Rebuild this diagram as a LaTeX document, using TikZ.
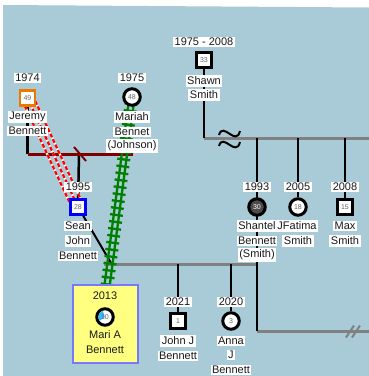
\documentclass[tikz,border=0pt]{standalone}
\usepackage{fontspec}
\setmainfont{Liberation Sans}
\usetikzlibrary{decorations.markings,calc}
\pgfdeclarelayer{back}
\pgfdeclarelayer{lines}
\pgfsetlayers{back,lines,main}
\definecolor{bgblue}{HTML}{A9CBD7}
\definecolor{dred}{HTML}{800000}
\definecolor{rgreen}{HTML}{008000}
\definecolor{lgray}{HTML}{808080}
\definecolor{orng}{HTML}{F07800}
\definecolor{bblue}{HTML}{0000FF}
\definecolor{mblue}{HTML}{7878FF}
\definecolor{myell}{HTML}{FFFF80}
\begin{document}
\begin{tikzpicture}[x=1pt,y=-1pt,
 lbl/.style={fill=white,inner sep=1.5pt,font=\fontsize{11}{12}\selectfont,text=black!90},
 ilbl/.style={inner sep=1.5pt,font=\fontsize{11}{12}\selectfont,text=black!90},
 sq/.style={draw=black,line width=2.5pt,fill=white,minimum size=15pt,inner sep=0pt,font=\fontsize{7}{8}\selectfont,text=black!60},
 ci/.style={circle,draw=black,line width=3pt,fill=white,minimum size=16.5pt,inner sep=0pt,font=\fontsize{7}{8}\selectfont,text=black!60},
 numtxt/.style={inner sep=0pt,font=\fontsize{7}{8}\selectfont,text=black!60},
 grayln/.style={lgray,line width=3pt},
 blkln/.style={black,line width=2.5pt},
 tildeln/.style={black,line width=2pt},
 greenln/.style={rgreen,line width=2.3pt},
]
\useasboundingbox (0,0) rectangle (369,376);

% Jeremy
\node[sq,draw=orng] (jer) at (27.5,98) {49};
\node[lbl] (jery) at (27.5,78) {1974};
\node[lbl] (jern1) at (27.5,117) {Jeremy};
\node[lbl] (jern2) at (27.5,131) {Bennett};
% Mariah
\node[ci] (mar) at (132,97) {48};
\node[lbl] (mary) at (132,78) {1975};
\node[lbl] (marn1) at (132,117) {Mariah};
\node[lbl] (marn2) at (132,132) {Bennet};
\node[lbl] (marn3) at (132,146) {(Johnson)};
% Shawn
\node[sq] (sha) at (204,60) {33};
\node[lbl] (shay) at (204,42) {1975 - 2008};
\node[lbl] (shan1) at (204,81) {Shawn};
\node[lbl] (shan2) at (204,95) {Smith};
% Shantel
\node[ci,fill=black!70,text=white!75] (shn) at (257,207) {30};
\node[lbl] (shny) at (257,187) {1993};
\node[lbl] (shnn1) at (257,226) {Shantel};
\node[lbl] (shnn2) at (257,241) {Bennett};
\node[lbl] (shnn3) at (257,255) {(Smith)};
% Fatima
\node[ci] (fat) at (298,207) {18};
\node[lbl] (faty) at (298,187) {2005};
\node[lbl] (fatn1) at (297,226) {JFatima};
\node[lbl] (fatn2) at (298,241) {Smith};
% Max
\node[sq] (max) at (345,207) {15};
\node[lbl] (maxy) at (345,187) {2008};
\node[lbl] (maxn1) at (345,226) {Max};
\node[lbl] (maxn2) at (345,241) {Smith};
% Sean
\node[sq,draw=bblue] (sean) at (78,207) {28};
\node[lbl] (seany) at (78,187) {1995};
\node[lbl] (seann1) at (78,226) {Sean};
\node[lbl] (seann2) at (78,241) {John};
\node[lbl] (seann3) at (78,256) {Bennett};
% Mari
\node[draw=mblue,fill=myell,line width=2.5pt,minimum width=65pt,minimum height=78pt,inner sep=0pt] (maribox) at (105.5,324) {};
\node[ci] (mari) at (105,317) {};
\fill[cyan!80] (mari.center) -- ++(110:6.6pt) arc[start angle=110,end angle=215,radius=6.6pt] -- cycle;
\node[numtxt] (marinum) at (mari) {10};
\node[ilbl] (mariy) at (105,296) {2013};
\node[ilbl] (marin1) at (105,335) {Mari A};
\node[ilbl] (marin2) at (105,350) {Bennett};
% John J
\node[sq] (john) at (178,321) {1};
\node[lbl] (johny) at (178,302) {2021};
\node[lbl] (johnn1) at (178,341) {John J};
\node[lbl] (johnn2) at (178,356) {Bennett};
% Anna
\node[ci] (anna) at (231,321) {3};
\node[lbl] (annay) at (231,302) {2020};
\node[lbl] (annan1) at (231,341) {Anna};
\node[lbl] (annan2) at (231,355) {J};
\node[lbl] (annan3) at (231,370) {Bennett};

% junction coordinates
\coordinate (shaJ) at (204,138);
\coordinate (shaE) at (369,138);
\coordinate (shnT) at (257,138);
\coordinate (fatT) at (298,138);
\coordinate (maxT) at (345,138);
\coordinate (shnB) at (257,331);
\coordinate (lowE) at (369,331);
\coordinate (cplL) at (104,264);
\coordinate (cplR) at (257,264);
\coordinate (johnT) at (178,264);
\coordinate (annaT) at (231,264);
\coordinate (seanJ) at (111,263);
\coordinate (jerJ) at (27.5,154);
\coordinate (marJ) at (133,154);
\coordinate (rmid) at (79,154);
\coordinate (gEnd) at (107,286);

\begin{pgfonlayer}{back}
\fill[white] (0,0) rectangle (369,376);
\fill[bgblue] (3,5) -- (369,7.5) -- (369,376) -- (3,376) -- cycle;
\end{pgfonlayer}

\begin{pgfonlayer}{lines}
% gray couple lines
\draw[grayln] (shaJ) -- (shaE);
\draw[grayln] (cplL) -- (cplR);
\draw[grayln] (shnB) -- (lowE);
\draw[lgray,line width=2pt] (346,337.5) -- (354,325.5);
\draw[lgray,line width=2pt] (352,337.5) -- (360,325.5);
% black descent lines
\draw[blkln] (sha) -- (shaJ);
\draw[blkln] (shnT) -- (shnB);
\draw[blkln] (fatT) -- (fat);
\draw[blkln] (maxT) -- (max);
\draw[blkln] (johnT) -- (john);
\draw[blkln] (annaT) -- (anna);
\draw[blkln] (jer) -- (jerJ);
\draw[blkln] (rmid) -- (sean);
\draw[black,line width=2pt] (sean) -- (seanJ);
% wavy separation mark
\draw[tildeln] (219,135) .. controls (223,121) and (236,147) .. (240,131);
\draw[tildeln] (219,146) .. controls (223,132) and (236,158) .. (240,142);
% red marriage line
\draw[dred,line width=3pt] (jerJ) -- (marJ);
\draw[dred,line width=2pt] (74,147) -- (86,161);
% red dashed triple line
\foreach \dx/\dy in {-5.2/2.4, 0/0, 5.2/-2.4}{
  \draw[white,line width=2.2pt] ([shift={(\dx,\dy)}]jer.center) -- ([shift={(\dx,\dy)}]sean.center);
  \draw[red,line width=2.2pt,dash pattern=on 4pt off 2pt] ([shift={(\dx,\dy)}]jer.center) -- ([shift={(\dx,\dy)}]sean.center);
}
% green ladder
\draw[greenln] ([shift={(-2.6,-0.36)}]mar.center) -- ([shift={(-2.6,-0.36)}]gEnd);
\draw[greenln] ([shift={(2.6,0.36)}]mar.center) -- ([shift={(2.6,0.36)}]gEnd);
\path[postaction={decorate,decoration={markings,
  mark=between positions 0 and 1 step 7pt with {\draw[greenln] (0,-6.5pt) -- (0,6.5pt);}}}]
  (mar.center) -- (gEnd);
\end{pgfonlayer}
\end{tikzpicture}
\end{document}
